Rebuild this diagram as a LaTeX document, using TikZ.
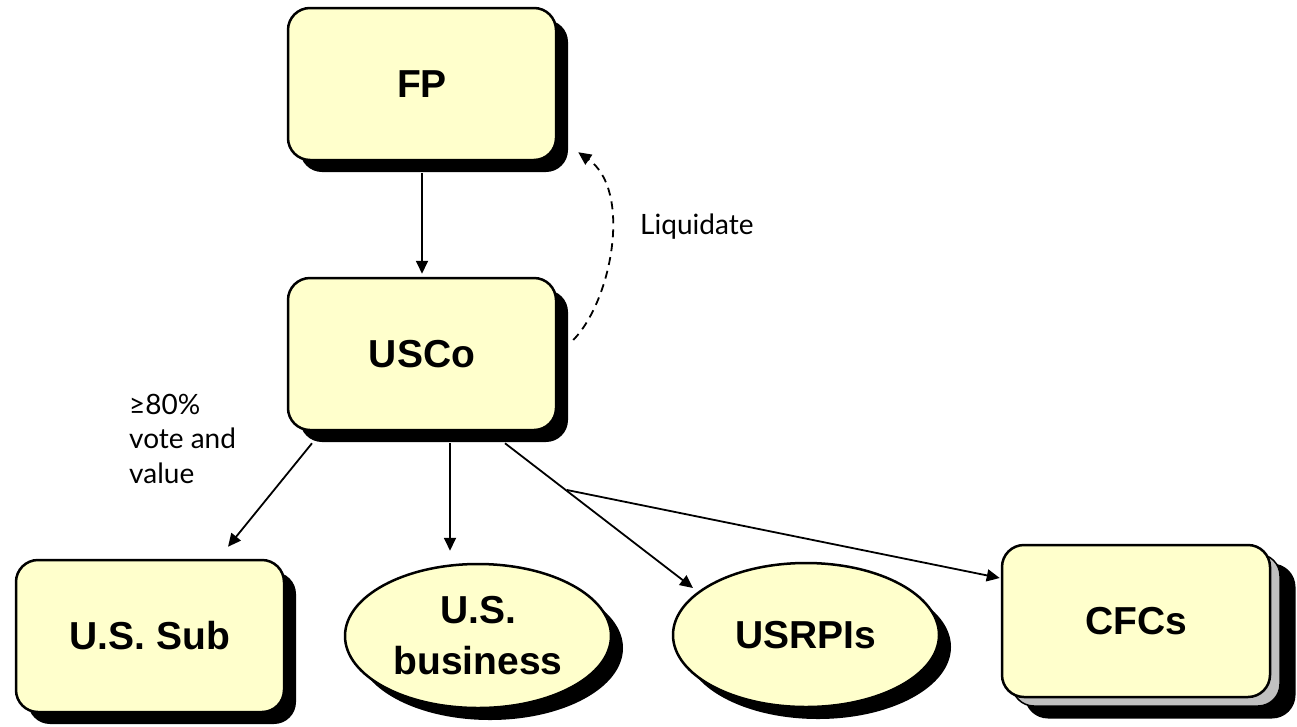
\documentclass[tikz,border=0pt]{standalone}
\usepackage{fontspec}
\setmainfont{Liberation Sans}
\newfontfamily\labelfont{Lato}
\usetikzlibrary{arrows.meta,shadows,shapes.geometric}
\definecolor{boxfill}{RGB}{255,255,204}
\definecolor{stackgray}{RGB}{192,192,192}
\begin{document}
\begin{tikzpicture}[x=1pt,y=-1pt,
  entity/.style={draw=black, line width=2.5pt, fill=boxfill, inner sep=0pt,
    font=\fontsize{39}{48}\selectfont\bfseries, align=center},
  plainbox/.style={entity, rectangle, rounded corners=22pt,
    minimum width=268pt, minimum height=152pt},
  boxnode/.style={plainbox,
    drop shadow={shadow xshift=12pt, shadow yshift=-12pt, fill=black, opacity=1}},
  ovalnode/.style={entity, ellipse, minimum width=266pt, minimum height=144pt,
    font=\fontsize{39}{51}\selectfont\bfseries,
    drop shadow={shadow xshift=12pt, shadow yshift=-12pt, fill=black, opacity=1}},
  stackshadow/.style={plainbox, fill=black, draw=black, line width=3pt},
  stackback/.style={plainbox, fill=stackgray, line width=1.5pt},
  link/.style={line width=1.8pt, -{Triangle[length=13pt,width=12pt]}},
  dashlink/.style={link, dash pattern=on 8pt off 6pt},
  lbl/.style={font=\labelfont\fontsize{28}{34.5}\selectfont, inner sep=0pt, align=left}
]
\useasboundingbox (0,0) rectangle (1297,726);

% entities
\node[boxnode] (fp) at (422,84) {FP};
\node[boxnode] (usco) at (422,354) {USCo};
\node[boxnode] (sub) at (150,636) {U.S. Sub};
\node[ovalnode] (bus) at (478,636) {U.S.\\business};
\node[ovalnode] (usrpi) at (806,635) {USRPIs};
% stacked CFCs: shadow, back sheet, front sheet
\node[stackshadow] (cfcshadow) at (1160,641) {};
\node[stackback] (cfcback) at (1146,630) {};
\node[plainbox] (cfc) at (1136,621) {CFCs};

% ownership links
\draw[link] ([yshift=-12pt]fp.south) -- ([yshift=3pt]usco.north);
\draw[link] ([xshift=-110pt,yshift=-12pt]usco.south) -- ([xshift=78pt,yshift=12pt]sub.north);
\draw[link] ([xshift=28pt,yshift=-12pt]usco.south) -- ([xshift=-28pt,yshift=12pt]bus.north);
\coordinate (ustart) at ([xshift=83pt,yshift=-12pt]usco.south);
\coordinate (fork) at (567,490);
\draw[link] (ustart) -- ([xshift=-113pt,yshift=47pt]usrpi.center);
\draw[link] (fork) -- ([xshift=-1pt,yshift=43pt]cfc.west);

% liquidation
\draw[dashlink] ([xshift=16pt,yshift=14pt]usco.east)
  .. controls +(39,-40) and +(54,38) .. ([xshift=21pt,yshift=9pt]fp.south east);

% labels
\node[lbl, anchor=west] (liq) at (640,227) {Liquidate};
\node[lbl, anchor=north west] (pct) at (129,394) {≥80\%\\vote and\\value};
\end{tikzpicture}
\end{document}
